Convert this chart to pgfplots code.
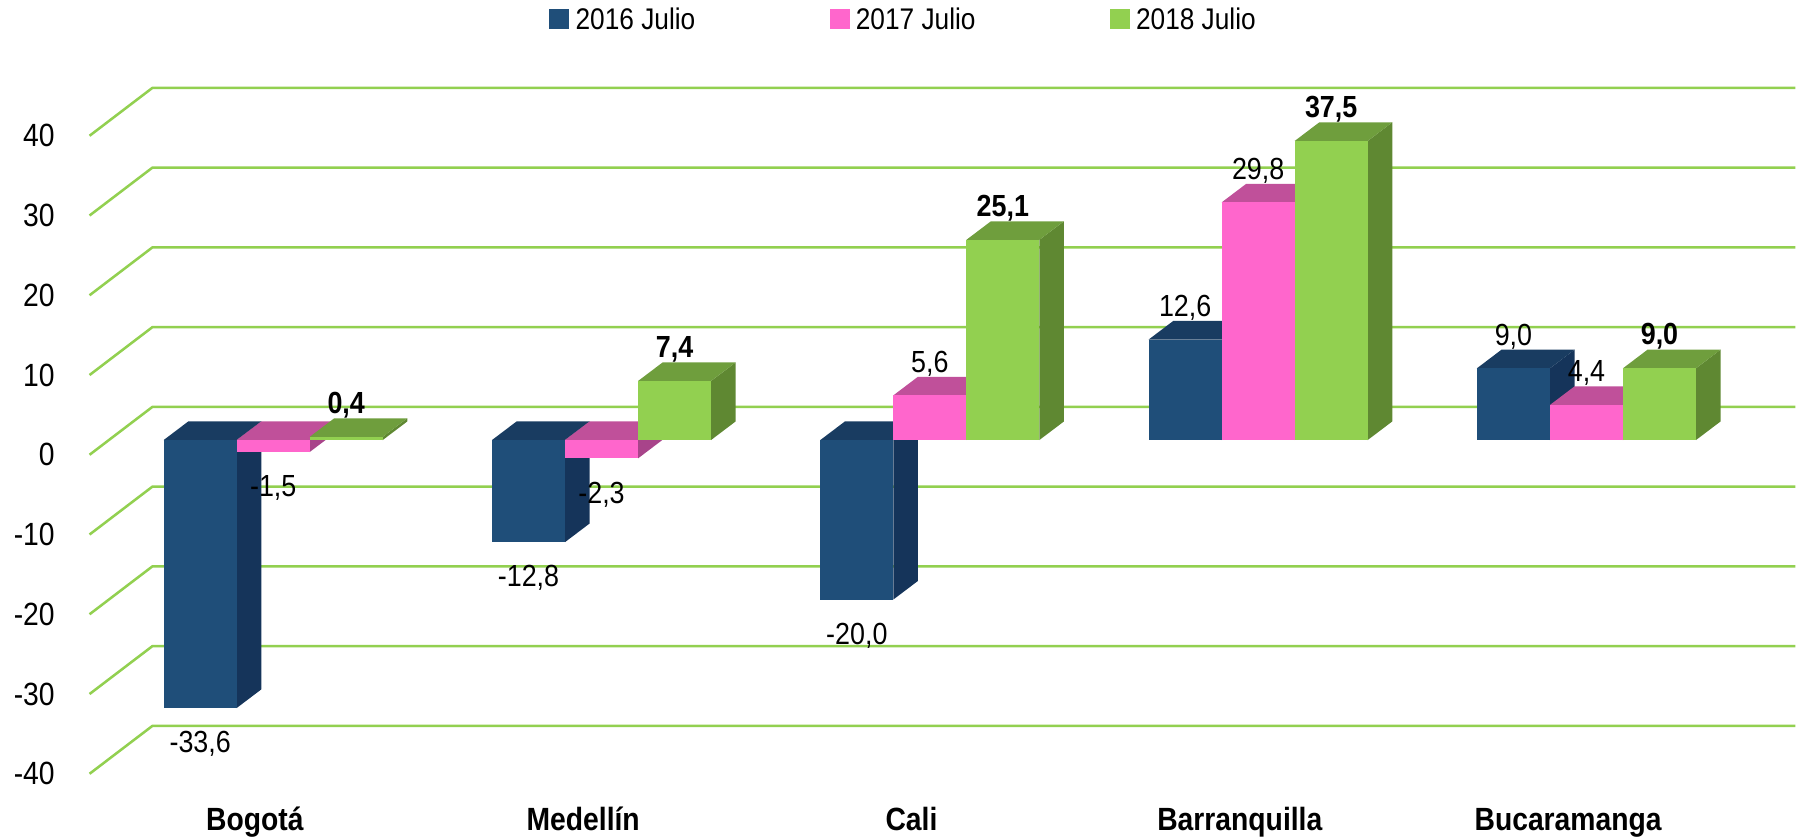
\documentclass[border=0pt]{standalone}
\usepackage{pgfplots}
\pgfplotsset{compat=1.18}
\usepackage{pgfplotstable}
\usepackage{fontspec}
\setmainfont{Liberation Sans}[FakeStretch=0.88]

\definecolor{blueF}{HTML}{1F4E79}
\definecolor{blueS}{HTML}{15345A}
\definecolor{blueT}{HTML}{193C61}
\definecolor{pinkF}{HTML}{FF66CC}
\definecolor{pinkS}{HTML}{A8448A}
\definecolor{pinkT}{HTML}{C0509A}
\definecolor{greenF}{HTML}{92D050}
\definecolor{greenS}{HTML}{5F8832}
\definecolor{greenT}{HTML}{6F9E3D}
\definecolor{gridgreen}{HTML}{92D050}

% x = group centre (px units), a = 2016 Julio, b = 2017 Julio, c = 2018 Julio
\pgfplotstableread{
x a b c
238 -33.6 -1.5 0.4
524 -12.8 -2.3 7.4
810 -20.0 5.6 25.1
1096 12.6 29.8 37.5
1382 9.0 4.4 9.0
}\data

\newcommand\threedbox[3]{%
  \pgfkeys{/pgf/fpu=false}%
  \pgfmathsetmacro\yz{(\val)*(-3.4735)}%
  \pgfmathsetmacro\yb{min(0,\yz)}%
  \pgfmathsetmacro\yt{max(0,\yz)}%
  \pgfmathsetmacro\ybb{\yb+8.1}%
  \pgfmathsetmacro\ytt{\yt+8.1}%
  \pgfpathmoveto{\pgfpoint{15.9bp}{\yb bp}}%
  \pgfpathlineto{\pgfpoint{26.6bp}{\ybb bp}}%
  \pgfpathlineto{\pgfpoint{26.6bp}{\ytt bp}}%
  \pgfpathlineto{\pgfpoint{15.9bp}{\yt bp}}%
  \pgfpathclose
  \pgfsetfillcolor{#2}\pgfusepath{fill}%
  \pgfpathmoveto{\pgfpoint{-15.9bp}{\yt bp}}%
  \pgfpathlineto{\pgfpoint{-5.2bp}{\ytt bp}}%
  \pgfpathlineto{\pgfpoint{26.6bp}{\ytt bp}}%
  \pgfpathlineto{\pgfpoint{15.9bp}{\yt bp}}%
  \pgfpathclose
  \pgfsetfillcolor{#3}\pgfusepath{fill}%
  \pgfpathrectanglecorners{\pgfpoint{-15.9bp}{\yb bp}}{\pgfpoint{15.9bp}{\yt bp}}%
  \pgfsetfillcolor{#1}\pgfusepath{fill}%
}
\pgfdeclareplotmark{boxA}{\threedbox{blueF}{blueS}{blueT}}
\pgfdeclareplotmark{boxB}{\threedbox{pinkF}{pinkS}{pinkT}}
\pgfdeclareplotmark{boxC}{\threedbox{greenF}{greenS}{greenT}}

\pgfplotsset{
  box3d/.style={
    scatter, only marks, mark=#1,
    visualization depends on={rawy \as \val},
    visualization depends on={ifthenelse(y<0,-10,8.1) \as \lshift},
    nodes near coords={\pgfmathprintnumber[fixed,fixed zerofill,precision=1,use comma,assume math mode=true]{\pgfplotspointmeta}},
    nodes near coords align={vertical},
    every node near coord/.append style={inner sep=0pt, yshift=\lshift bp, text=black,
      font=\fontsize{13.3bp}{15bp}\selectfont},
  },
}

\begin{document}
\begin{tikzpicture}
\begin{axis}[
  x=0.5bp, y=3.4735bp,
  xmin=0, xmax=1568, ymin=-49.62, ymax=55.18,
  clip=false,
  axis line style={draw=none},
  tick style={draw=none},
  /pgf/number format/assume math mode=true,
  ytick={-40,-30,-20,-10,0,10,20,30,40},
  yticklabel style={anchor=east, inner sep=0pt, xshift=24bp, yshift=-6.4bp,
    font=\fontsize{14bp}{16bp}\selectfont},
  xtick={238,524,810,1096,1382},
  xticklabels={Bogotá, Medellín, Cali, Barranquilla, Bucaramanga},
  xticklabel style={anchor=base, inner sep=0pt, yshift=2.5bp, xshift=-8bp,
    font=\bfseries\fontsize{14bp}{16bp}\selectfont},
  legend columns=3,
  legend style={draw=none, fill=none, at={(0.5032,0.9753)}, anchor=center,
    font=\fontsize{13bp}{15bp}\selectfont,
    nodes={inner xsep=2.75bp, inner ysep=0pt},
    /tikz/every even column/.append style={column sep=55.75bp}},
]
\pgfplotsinvokeforeach{-40,-30,-20,-10,0,10,20,30,40}{
  \addplot[gridgreen, line width=1.1bp, line join=round, forget plot]
    table[row sep=\\, y expr=\thisrow{y}+(#1)] {x y\\ 78 -1.85\\ 132.7 4.15\\ 1564 4.15\\};
}
\addplot[box3d=boxA, legend image code/.code={\fill[blueF] (0bp,-3.25bp) rectangle (8.25bp,5bp);}]
  table[x expr=\thisrow{x}-63.6, y=a] {\data};
\addlegendentry{2016 Julio}
\addplot[box3d=boxB, legend image code/.code={\fill[pinkF] (0bp,-3.25bp) rectangle (8.25bp,5bp);}]
  table[x=x, y=b] {\data};
\addlegendentry{2017 Julio}
\addplot[box3d=boxC, every node near coord/.append style={font=\bfseries\fontsize{13.3bp}{15bp}\selectfont},
  legend image code/.code={\fill[greenF] (0bp,-3.25bp) rectangle (8.25bp,5bp);}]
  table[x expr=\thisrow{x}+63.6, y=c] {\data};
\addlegendentry{2018 Julio}
\end{axis}
\end{tikzpicture}
\end{document}
